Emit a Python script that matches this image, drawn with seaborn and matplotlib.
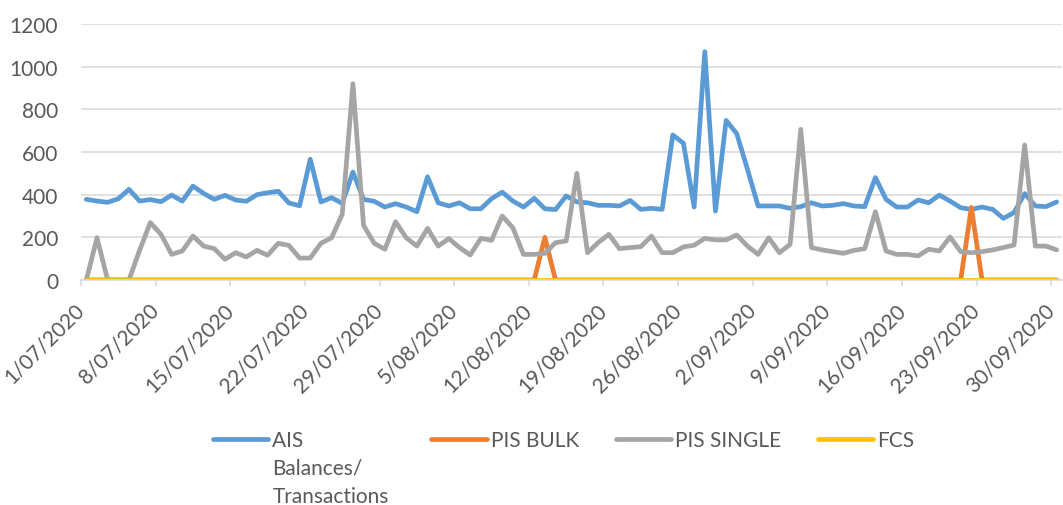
import numpy as np
import pandas as pd
import seaborn as sns
import matplotlib
from matplotlib import pyplot as plt
from matplotlib.transforms import IdentityTransform

# daily values, 1 Jul 2020 - 30 Sep 2020
dates = pd.date_range("2020-07-01", "2020-09-30", freq="D")

ais = [
    378, 370, 364, 381, 425, 370, 377, 367, 398, 370, 440, 406, 378, 397,
    375, 369, 400, 409, 416, 361, 348, 566, 366, 386, 359, 506, 378, 369,
    342, 358, 342, 320, 484, 362, 347, 362, 334, 334, 381, 412, 370, 342,
    383, 334, 330, 394, 366, 362, 350, 350, 347, 373, 331, 336, 331, 680,
    641, 342, 1070, 323, 748, 686, 519, 347, 347, 347, 336, 344, 362, 347,
    350, 358, 347, 344, 480, 378, 342, 342, 375, 362, 398, 370, 339, 331,
    342, 331, 289, 316, 405, 347, 344, 366,
]
pis_bulk = [
    0, 0, 0, 0, 0, 0, 0, 0, 0, 0, 0, 0, 0, 0,
    0, 0, 0, 0, 0, 0, 0, 0, 0, 0, 0, 0, 0, 0,
    0, 0, 0, 0, 0, 0, 0, 0, 0, 0, 0, 0, 0, 0,
    0, 200, 0, 0, 0, 0, 0, 0, 0, 0, 0, 0, 0, 0,
    0, 0, 0, 0, 0, 0, 0, 0, 0, 0, 0, 0, 0, 0,
    0, 0, 0, 0, 0, 0, 0, 0, 0, 0, 0, 0, 0, 340,
    0, 0, 0, 0, 0, 0, 0, 0,
]
pis_single = [
    0, 198, 0, 0, 0, 140, 269, 214, 120, 136, 206, 159, 147, 97,
    128, 108, 139, 116, 172, 162, 103, 103, 172, 198, 308, 920, 256, 172,
    144, 273, 198, 159, 242, 159, 194, 152, 117, 195, 186, 300, 245, 120,
    120, 125, 175, 183, 500, 128, 175, 214, 147, 152, 156, 206, 128, 128,
    155, 163, 195, 188, 188, 211, 159, 120, 198, 128, 167, 706, 152, 141,
    133, 125, 139, 147, 320, 136, 120, 120, 113, 144, 136, 202, 133, 128,
    133, 141, 152, 164, 633, 159, 159, 141,
]
fcs = [
    0, 0, 0, 0, 0, 0, 0, 0, 0, 0, 0, 0, 0, 0,
    0, 0, 0, 0, 0, 0, 0, 0, 0, 0, 0, 0, 0, 0,
    0, 0, 0, 0, 0, 0, 0, 0, 0, 0, 0, 0, 0, 0,
    0, 0, 0, 0, 0, 0, 0, 0, 0, 0, 0, 0, 0, 0,
    0, 0, 0, 0, 0, 0, 0, 0, 0, 0, 0, 0, 0, 0,
    0, 0, 0, 0, 0, 0, 0, 0, 0, 0, 0, 0, 0, 0,
    0, 0, 0, 0, 0, 0, 0, 0,
]

series_names = ["AIS", "PIS BULK", "PIS SINGLE", "FCS"]
legend_labels = ["AIS", "PIS BULK", "PIS SINGLE", "FCS"]
ais_label_rest = ["Balances/", "Transactions"]
colors = ["#5B9BD5", "#ED7D31", "#A5A5A5", "#FFC000"]
ytick_vals = [0, 200, 400, 600, 800, 1000, 1200]
xtick_dates = dates[::7]

TEXT = "#595959"
GRID = "#D9D9D9"
W, H = 1063, 506

sns.set_theme(style="white")
plt.rcParams["font.family"] = ["Lato", "DejaVu Sans"]

df = pd.DataFrame({
    "date": dates,
    "AIS": ais,
    "PIS BULK": pis_bulk,
    "PIS SINGLE": pis_single,
    "FCS": fcs,
})
long = df.melt(id_vars="date", var_name="series", value_name="value")
# excel date axis puts each point in the middle of its day
long["x"] = long["date"] + pd.Timedelta(hours=12)

fig = plt.figure(figsize=(W / 100, H / 100), dpi=100)
ax = fig.add_axes([81 / W, 1 - 281 / H, (1062 - 81) / W, (281 - 25) / H])

sns.lineplot(
    data=long, x="x", y="value", hue="series", hue_order=series_names,
    palette=colors, legend=False, ax=ax,
)
lines = ax.get_lines()[:4]
for ln in lines:
    ln.set_linewidth(3.4)
    ln.set_solid_capstyle("round")
    ln.set_solid_joinstyle("round")

ax.set_xlim(dates[0], dates[-1] + pd.Timedelta(days=1))
ax.set_ylim(0, 1200)
ax.set_yticks(ytick_vals)
ax.set_yticklabels([str(v) for v in ytick_vals])
ax.set_xticks(xtick_dates)
ax.set_xticklabels([f"{d.day}/{d:%m/%Y}" for d in xtick_dates],
                   rotation=45, ha="right", rotation_mode="anchor", va="center")
ax.set_xlabel("")
ax.set_ylabel("")

ax.grid(axis="y", color=GRID, linewidth=1.1)
ax.set_axisbelow(True)
for s in ["top", "right", "left"]:
    ax.spines[s].set_visible(False)
ax.spines["bottom"].set_color(GRID)
ax.spines["bottom"].set_linewidth(1.1)
ax.tick_params(axis="y", length=0, pad=16.5, labelsize=15, labelcolor=TEXT)
ax.tick_params(axis="x", bottom=True, length=4, width=1.1, color=GRID,
               pad=15, labelsize=15, labelcolor=TEXT)

# legend: first label continues on two more lines under "AIS";
# trailing spaces keep its column as wide as "Transactions"
labels = [legend_labels[0] + " " * 17] + legend_labels[1:]
leg = ax.legend(
    lines, labels, ncol=4,
    loc="upper left", bbox_to_anchor=(213 / W, 1 - 431 / H),
    bbox_transform=fig.transFigure, frameon=False, fontsize=15,
    handlelength=2.65, handletextpad=0.2, columnspacing=1.75,
    borderpad=0, borderaxespad=0,
)
for t in leg.get_texts():
    t.set_color(TEXT)

fig.canvas.draw()
t0 = leg.get_texts()[0]
bx, by = t0.get_transform().transform((0, 0))
for i, txt in enumerate(ais_label_rest):
    fig.text(bx, by - 28 * (i + 1), txt, transform=IdentityTransform(),
             ha="left", va="baseline", fontsize=15, color=TEXT)

fig.savefig("out.png", dpi=100)
